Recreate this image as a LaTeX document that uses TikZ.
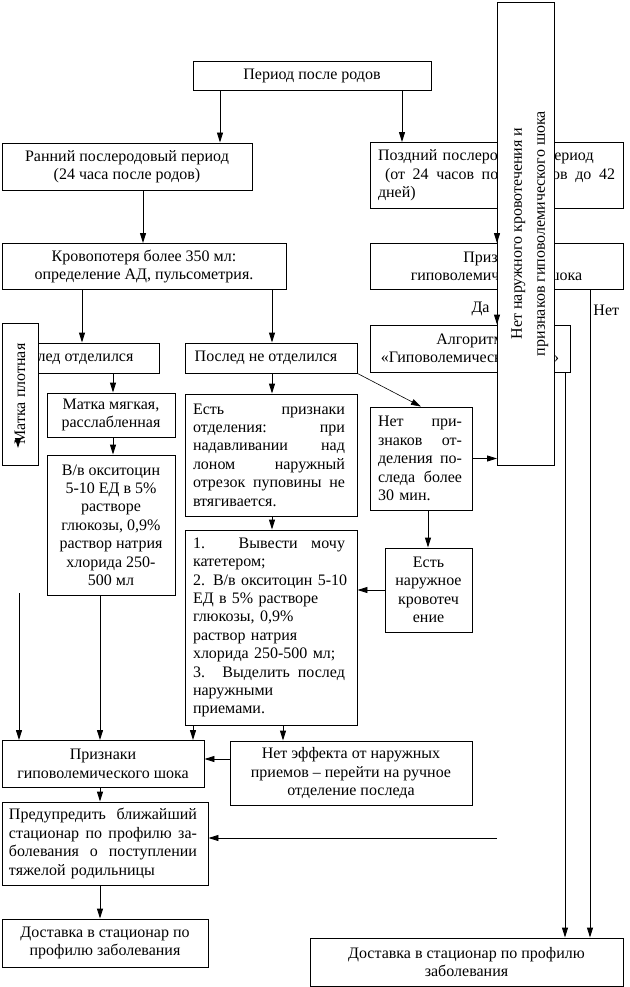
\documentclass[tikz,border=0pt]{standalone}
\usepackage{fontspec}
\setmainfont{Liberation Serif}
\usetikzlibrary{arrows.meta}
\newcommand{\jl}[2][152pt]{{\spaceskip=0pt\xspaceskip=0pt\makebox[#1][s]{#2}}}
\begin{document}
\begin{tikzpicture}[x=1pt,y=-1pt,
  box/.style={draw, line width=0.9pt, fill=white, inner sep=2pt,
    font=\fontsize{16}{18.4}\selectfont, align=center},
  jbox/.style={box, align=left},
  arr/.style={line width=0.9pt, -{Triangle[length=10pt,width=6pt]}},
  lbl/.style={font=\fontsize{16}{18.4}\selectfont, inner sep=3pt}]
\useasboundingbox (0,0) rectangle (629,987);
\fill[white] (0,0) rectangle (629,987);

% boxes
\node[box, minimum width=238pt, minimum height=29pt] (period) at (312,75.5) {Период после родов};
\node[box, minimum width=250pt, minimum height=47pt] (early) at (127,166.5) {Ранний послеродовый период\\(24 часа после родов)};
\node[jbox, minimum width=253pt, minimum height=66pt, text width=237pt] (late) at (496.5,175.5)
  {Поздний послеродовый период\\\hspace*{7pt}\jl[230pt]{(от 24 часов после родов до 42}\\дней)};
\node[box, minimum width=284pt, minimum height=46pt] (blood) at (144,266.5) {Кровопотеря более 350 мл:\\определение АД, пульсометрия.};
\node[box, minimum width=253pt, minimum height=46pt] (shockR) at (496.5,266.5) {Признаки\\гиповолемического шока};
\node[box, minimum width=200pt, minimum height=47pt] (algo) at (470,348.5) {Алгоритм\\«Гиповолемический шок»};
\node[box, minimum width=148pt, minimum height=30pt] (otd) at (84,358) {Послед отделился\hspace*{24pt}};
\node[box, minimum width=172pt, minimum height=30pt] (notd) at (271,358) {Послед не отделился\hspace*{10pt}};
\node[box, minimum width=128pt, minimum height=44pt] (soft) at (111,415) {Матка мягкая,\\расслабленная};
\node[box, minimum width=128pt, minimum height=140pt] (oxy) at (111,525)
  {В/в окситоцин\\5-10 ЕД в 5\%\\растворе\\глюкозы, 0,9\%\\раствор натрия\\хлорида 250-\\500 мл};
\node[jbox, minimum width=172pt, minimum height=122pt, text width=156pt] (signs) at (271,455)
  {\jl{Есть признаки}\\\jl{отделения: при}\\\jl{надавливании над}\\\jl{лоном наружный}\\\jl{отрезок пуповины не}\\втягивается.};
\node[jbox, minimum width=172pt, minimum height=195pt, text width=156pt] (steps) at (271,627.5)
  {\jl{1. Вывести мочу}\\катетером;\\\mbox{2. В/в окситоцин 5-10}\\ЕД в 5\% растворе\\глюкозы, 0,9\%\\раствор натрия\\хлорида 250-500 мл;\\\jl{3. Выделить послед}\\наружными\\приемами.};
\node[jbox, minimum width=102pt, minimum height=103pt, text width=86pt] (noSigns) at (421,458.5)
  {\jl[84pt]{Нет при-}\\\jl[84pt]{знаков от-}\\\jl[84pt]{деления по-}\\\jl[84pt]{следа более}\\30 мин.};
\node[box, minimum width=87pt, minimum height=84pt] (ext) at (428.5,590) {Есть\\наружное\\кровотеч\\ение};
\node[box, minimum width=202pt, minimum height=47pt] (shockL) at (103,764) {Признаки\\гиповолемического шока};
\node[box, minimum width=242pt, minimum height=64pt] (noeff) at (351,773) {Нет эффекта от наружных\\приемов – перейти на ручное\\отделение последа};
\node[jbox, minimum width=206pt, minimum height=83pt, text width=192pt] (warn) at (105,843.5)
  {\jl[188pt]{Предупредить ближайший}\\\jl[188pt]{стационар по профилю за-}\\\jl[188pt]{болевания о поступлении}\\тяжелой родильницы};
\node[box, minimum width=206pt, minimum height=48pt] (delivL) at (105,943) {Доставка в стационар по\\профилю заболевания};
\node[box, minimum width=313pt, minimum height=48pt] (delivR) at (466.5,962) {Доставка в стационар по профилю\\заболевания};
% boxes drawn over others
\node[box, rotate=90, minimum width=142pt, minimum height=36pt] (mplot) at (20,394) {Матка плотная};
\node[box, rotate=90, minimum width=463pt, minimum height=57pt,
  font=\fontsize{16}{23}\selectfont] (vert) at (525.5,233.5)
  {\rule{0pt}{19pt}Нет наружного кровотечения и\\признаков гиповолемического шока};

% column coordinates
\coordinate (cA) at (220,0);
\coordinate (cB) at (402,0);
\coordinate (cC) at (143,0);
\coordinate (cD) at (497,0);
\coordinate (cE) at (82,0);
\coordinate (cF) at (272,0);
\coordinate (cG) at (590,0);
\coordinate (cH) at (565,0);
\coordinate (cI) at (113,0);
\coordinate (cJ) at (100,0);
\coordinate (cL) at (428,0);
\coordinate (cM) at (193,0);
\coordinate (cN) at (283,0);
\coordinate (r1) at (0,759);
\coordinate (s1) at (19,593);
\coordinate (s2) at (497,838);
\coordinate (m1) at (18,438);
\coordinate (m2) at (18,448);

% connectors
\draw[arr] (period.south -| cA) -- (early.north -| cA);
\draw[arr] (period.south -| cB) -- (late.north -| cB);
\draw[arr] (early.south -| cC) -- (blood.north -| cC);
\draw[arr] (late.south -| cD) -- (shockR.north -| cD);
\draw[arr] (blood.south -| cE) -- (otd.north -| cE);
\draw[arr] (blood.south -| cF) -- (notd.north -| cF);
\draw[arr] (shockR.south -| cD) -- node[lbl, left, pos=0.55, xshift=-4pt] {Да} (algo.north -| cD);
\draw[arr] (shockR.south -| cG) -- node[lbl, right, pos=0.031] {Нет} (delivR.north -| cG);
\draw[arr] (algo.south -| cH) -- (delivR.north -| cH);
\draw[arr] (otd.south -| cI) -- (soft.north -| cI);
\draw[arr] (soft.south -| cI) -- (oxy.north -| cI);
\draw[arr] (oxy.south -| cJ) -- (shockL.north -| cJ);
\draw[arr] (s1) -- (shockL.north -| s1);
\draw[arr] (notd.south -| cF) -- (signs.north -| cF);
\draw[arr, line width=0.6pt] (notd.south east) -- (noSigns.north);
\draw[arr] (signs.south -| cF) -- (steps.north -| cF);
\draw[arr] (noSigns.east) -- (noSigns.east -| cD);
\draw[arr] (noSigns.south -| cL) -- (ext.north -| cL);
\draw[arr] (ext.west) -- (ext.west -| steps.east);
\draw[arr] (steps.south -| cM) -- (shockL.north -| cM);
\draw[arr] (steps.south -| cN) -- (noeff.north -| cN);
\draw[arr] (noeff.west |- r1) -- (shockL.east |- r1);
\draw[arr] (shockL.south -| cJ) -- (warn.north -| cJ);
\draw[arr] (s2) -- (warn.east |- s2);
\draw[arr] (warn.south -| cJ) -- (delivL.north -| cJ);
\draw[arr] (m1) -- (m2);
\end{tikzpicture}
\end{document}
